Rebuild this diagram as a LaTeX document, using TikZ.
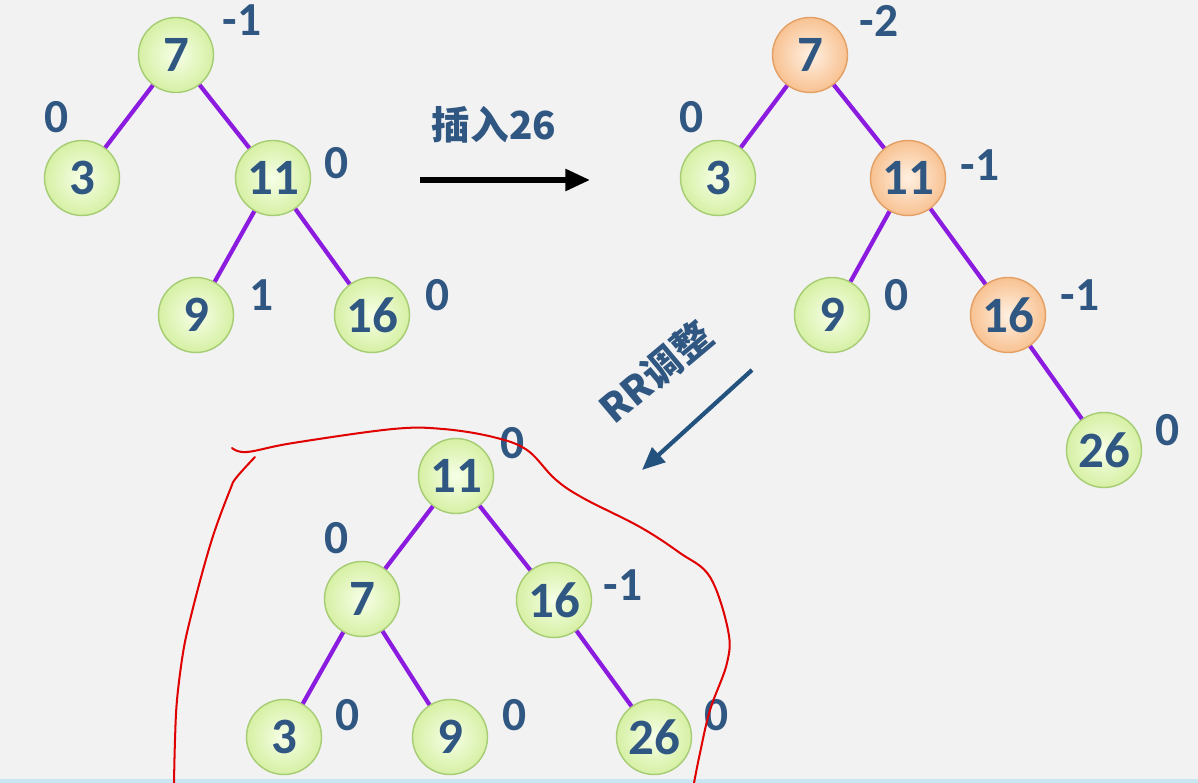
\documentclass[tikz,border=0pt]{standalone}
\usepackage{fontspec}
\setmainfont{Carlito}
\newfontfamily\cjk{Noto Sans CJK SC}
\usetikzlibrary{arrows.meta}
\definecolor{bgc}{HTML}{F2F2F2}
\definecolor{ginner}{HTML}{F7FFE8}
\definecolor{gouter}{HTML}{D6F0A4}
\definecolor{gborder}{HTML}{A6CC74}
\definecolor{oinner}{HTML}{FFF0E2}
\definecolor{oouter}{HTML}{F8C292}
\definecolor{oborder}{HTML}{E4A064}
\definecolor{numc}{HTML}{2F5782}
\definecolor{violetc}{HTML}{8C1BE0}
\definecolor{arrblue}{HTML}{24527F}
\definecolor{inkred}{HTML}{E00000}
\definecolor{stripc}{HTML}{C9E6F2}
\begin{document}
\begin{tikzpicture}[x=0.02cm,y=-0.02cm,
  gn/.style={circle, draw=gborder, line width=0.8pt, inner color=ginner, outer color=gouter,
    minimum size=1.5cm, inner sep=0pt, font=\fontsize{29}{30}\selectfont\bfseries, text=numc},
  on/.style={gn, draw=oborder, inner color=oinner, outer color=oouter},
  lbl/.style={font=\fontsize{27}{28}\selectfont\bfseries, text=numc},
  captxt/.style={text=numc, inner sep=1pt, font=\cjk\fontsize{22}{24}\selectfont\bfseries},
  tedge/.style={draw=violetc, line width=2.4pt},
  ink/.style={draw=inkred, line width=1.15pt, line cap=round, line join=round}]
\fill[bgc] (0,0) rectangle (1198,783);
\fill[stripc] (0,779) rectangle (1198,783);
\useasboundingbox (0,0) rectangle (1198,783);

% Tree 1
\node[gn] (a7) at (176,55) {7};
\node[gn] (a3) at (82,178) {3};
\node[gn] (a11) at (273,178) {11};
\node[gn] (a9) at (196,315) {9};
\node[gn] (a16) at (372,315) {16};
\draw[tedge] (a7) -- (a3);
\draw[tedge] (a7) -- (a11);
\draw[tedge] (a11) -- (a9);
\draw[tedge] (a11) -- (a16);
\node[lbl] (la7) at (242,20) {-1};
\node[lbl] (la3) at (57,117) {0};
\node[lbl] (la11) at (337,163) {0};
\node[lbl] (la9) at (262,295) {1};
\node[lbl] (la16) at (438,295) {0};

% Arrow 1
\coordinate (r1s) at (420,180);
\coordinate (r1e) at (590,180);
\draw[line width=3pt, -{Triangle[length=14pt,width=12pt]}] (r1s) -- (r1e);
\node[captxt] (t1) at (494,125) {插入26};

% Tree 2
\node[on] (b7) at (810,55) {7};
\node[gn] (b3) at (718,178) {3};
\node[on] (b11) at (908,178) {11};
\node[gn] (b9) at (832,315) {9};
\node[on] (b16) at (1008,315) {16};
\node[gn] (b26) at (1104,450) {26};
\draw[tedge] (b7) -- (b3);
\draw[tedge] (b7) -- (b11);
\draw[tedge] (b11) -- (b9);
\draw[tedge] (b11) -- (b16);
\draw[tedge] (b16) -- (b26);
\node[lbl] (lb7) at (879,21) {-2};
\node[lbl] (lb3) at (692,117) {0};
\node[lbl] (lb11) at (980,165) {-1};
\node[lbl] (lb9) at (897,295) {0};
\node[lbl] (lb16) at (1080,295) {-1};
\node[lbl] (lb26) at (1168,430) {0};

% Arrow 2
\coordinate (r2s) at (752,370);
\coordinate (r2e) at (642,470);
\draw[arrblue, line width=2.4pt, -{Triangle[length=13pt,width=11pt]}] (r2s) -- (r2e);
\node[captxt, rotate=40] (t2) at (656,372) {RR调整};

% Tree 3
\node[gn] (c11) at (456,476) {11};
\node[gn] (c7) at (362,599) {7};
\node[gn] (c16) at (554,600) {16};
\node[gn] (c3) at (284,737) {3};
\node[gn] (c9) at (450,737) {9};
\node[gn] (c26) at (654,737) {26};
\draw[tedge] (c11) -- (c7);
\draw[tedge] (c11) -- (c16);
\draw[tedge] (c7) -- (c3);
\draw[tedge] (c7) -- (c9);
\draw[tedge] (c16) -- (c26);
\node[lbl] (lc11) at (513,443) {0};
\node[lbl] (lc7) at (337,538) {0};
\node[lbl] (lc16) at (623,585) {-1};
\node[lbl] (lc3) at (348,715) {0};
\node[lbl] (lc9) at (515,715) {0};
\node[lbl] (lc26) at (717,715) {0};

% Hand-drawn red outline
\draw[ink] plot[smooth, tension=0.6] coordinates {(232,448) (247,452) (293,443) (393,429) (443,429) (493,437) (527,450) (555,479) (583,498) (640,527) (680,553) (710,577) (728,630) (727,663) (710,710) (700,753) (694,783)};
\draw[ink] plot[smooth, tension=0.6] coordinates {(255,457) (236,478) (230,490) (215,530) (203,570) (190,620) (183,653) (177,700) (175,740) (174,783)};
\end{tikzpicture}
\end{document}
